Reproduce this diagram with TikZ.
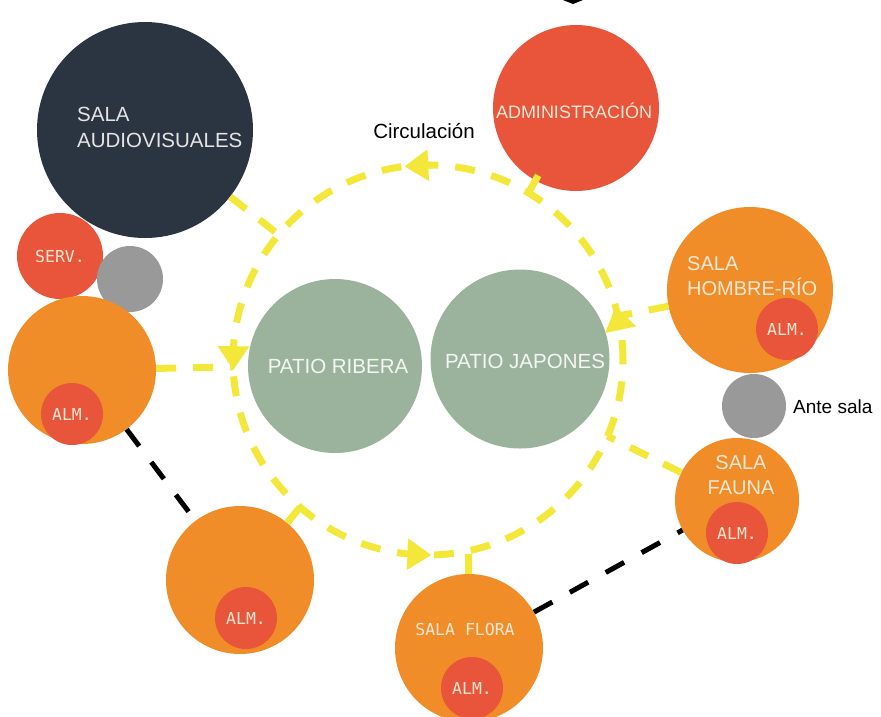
\documentclass[tikz,border=0pt]{standalone}
\usepackage{fontspec}
\setmainfont{Liberation Sans}
\newfontfamily\monofont{DejaVu Sans Mono}
\usetikzlibrary{arrows.meta,calc}

\definecolor{navyR}{HTML}{2B3441}
\definecolor{redR}{HTML}{E9553A}
\definecolor{orangeR}{HTML}{F18D29}
\definecolor{grayR}{HTML}{999999}
\definecolor{greenR}{HTML}{9BB39C}
\definecolor{yellowR}{HTML}{F3E83A}
\definecolor{creamR}{HTML}{FAE8D4}

\begin{document}
\begin{tikzpicture}[x=1pt, y=-1pt,
    room/.style={circle, inner sep=0pt, minimum size=#1},
    monolbl/.style={inner sep=0pt, text=creamR, font=\monofont\fontsize{16.5}{18}\selectfont},
    alm/.style={room=62pt, fill=redR, monolbl},
    lbl/.style={inner sep=0pt, text=creamR, font=\fontsize{20}{25}\selectfont},
    circul/.style={draw=yellowR, line width=7pt, dash pattern=on 20pt off 17pt},
    circtip/.style={yellowR, line width=7pt, -{Triangle[length=24pt, width=30pt]}},
    link/.style={draw=black, line width=5pt, dash pattern=on 21pt off 20pt},
  ]
  \useasboundingbox (0,0) rectangle (881,716);

  % ---- rooms ----
  \node[room=216pt, fill=navyR] (audio) at (145,130) {};
  \node[room=166pt, fill=redR] (admin) at (576,108) {};
  \node[room=86pt, fill=redR, monolbl] (serv) at (60,256) {SERV.};
  \node[room=66pt, fill=grayR] (paso) at (130,279) {};
  \node[room=148pt, fill=orangeR] (depA) at (82,370) {};
  \node[room=174pt, fill=greenR] (ribera) at (335,366) {};
  \node[room=179pt, fill=greenR] (japones) at (520,359) {};
  \node[room=166pt, fill=orangeR] (hombre) at (750,290) {};
  \node[room=64pt, fill=grayR] (ante) at (754,406) {};
  \node[room=124pt, fill=orangeR] (fauna) at (737,500) {};
  \node[room=148pt, fill=orangeR] (depB) at (240,580) {};
  \node[room=148pt, fill=orangeR] (flora) at (469,648) {};

  % ---- storage ----
  \node[alm] (almA) at (72,414) {ALM.};
  \node[alm] (almH) at (787,329) {ALM.};
  \node[alm] (almF) at (737,533) {ALM.};
  \node[alm] (almB) at (246,618) {ALM.};
  \node[alm] (almL) at (472,688) {ALM.};

  % ---- circulation ring ----
  \node[room=390pt, circul, outer sep=0pt] (ring) at (428,360) {};
  \draw[circtip] (ring.89) -- (ring.97);
  \draw[circtip] (ring.176) -- (ring.183);
  \draw[circtip] (ring.265) -- (ring.271);
  \draw[circtip] (ring.9) -- (ring.16);

  \draw[circul] (audio) -- (ring.140);
  \draw[circul, shorten >=76pt] (ring.59) -- (admin.center);
  \draw[circul] (depA) -- (ring.182);
  \draw[circul] (hombre) -- (ring.13);
  \draw[circul] (fauna) -- (ring.337);
  \draw[circul] (depB) -- (ring.229);
  \draw[circul] (flora) -- (ring.282);

  % ---- service links ----
  \draw[link] (depA) -- (depB);
  \draw[link] (flora) -- (fauna);
  \fill (563,0) -- (583,0) -- (573,4) -- cycle;

  % ---- labels ----
  \node[lbl, text=black!10, font=\fontsize{20.5}{26}\selectfont, anchor=north west, align=left]
    (audioT) at (77,107) {SALA\\AUDIOVISUALES};
  \node[lbl, font=\fontsize{18}{20}\selectfont, anchor=base] (adminT) at (574,118) {ADMINISTRACIÓN};
  \node[lbl, text=white!88!greenR, font=\fontsize{20.5}{24}\selectfont, anchor=base]
    (riberaT) at (338,373) {PATIO RIBERA};
  \node[lbl, text=white!88!greenR, font=\fontsize{20.5}{24}\selectfont, anchor=base]
    (japonesT) at (525,368) {PATIO JAPONES};
  \node[lbl, anchor=north west, align=left] (hombreT) at (687,256) {SALA\\HOMBRE-RÍO};
  \node[lbl, anchor=north, align=center] (faunaT) at (741,455) {SALA\\FAUNA};
  \node[monolbl, anchor=base] (floraT) at (465,635) {SALA FLORA};
  \node[inner sep=0pt, font=\fontsize{19}{21}\selectfont, anchor=base west] (anteT) at (793,413) {Ante sala};
  \node[inner sep=0pt, font=\fontsize{20.5}{22}\selectfont, anchor=base] (circT) at (424,138) {Circulación};
\end{tikzpicture}
\end{document}
